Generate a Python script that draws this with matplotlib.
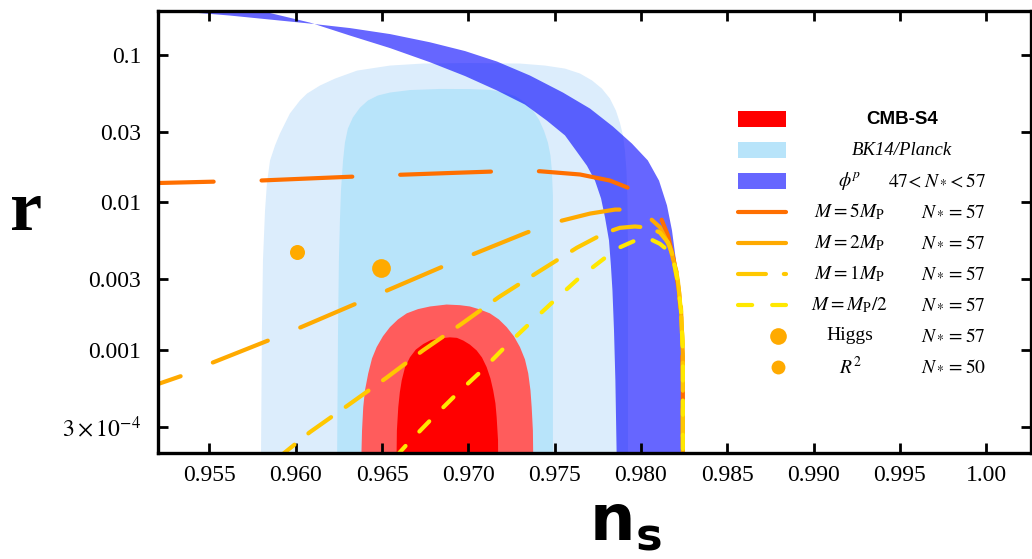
import matplotlib
matplotlib.use("Agg")
import matplotlib.pyplot as plt
from matplotlib.lines import Line2D
from matplotlib.patches import Rectangle

plt.rcParams['font.family'] = ['Liberation Serif', 'DejaVu Serif']
plt.rcParams['mathtext.fontset'] = 'stix'

# BK14/Planck contours (95% outer, 68% inner)
bk_out_ns = [0.95798, 0.95804, 0.95810, 0.95822, 0.95833, 0.95851, 0.95880, 0.95908, 0.95966, 0.96024,
             0.96065, 0.96140, 0.96227, 0.96355, 0.96546, 0.96737, 0.97009, 0.97299, 0.97444, 0.97560,
             0.97647, 0.97717, 0.97774, 0.97820, 0.97855, 0.97878, 0.97896, 0.97907, 0.97916, 0.97922,
             0.97925, 0.97925]
bk_out_r = [1.5e-4, 1.35e-3, 4.02e-3, 8.79e-3, 0.0134, 0.0192, 0.0243, 0.0292, 0.0400, 0.0490,
            0.0546, 0.0619, 0.0690, 0.0782, 0.0846, 0.0873, 0.0880, 0.0873, 0.0846, 0.0807,
            0.0747, 0.0670, 0.0590, 0.0506, 0.0419, 0.0347, 0.0284, 0.0224, 0.0164, 0.0103,
            0.0047, 1.5e-4]
bk_in_ns = [0.96239, 0.96245, 0.96250, 0.96256, 0.96262, 0.96274, 0.96285, 0.96302, 0.96331, 0.96372,
            0.96418, 0.96476, 0.96546, 0.96662, 0.96836, 0.97009, 0.97125, 0.97212, 0.97276, 0.97328,
            0.97374, 0.97409, 0.97438, 0.97461, 0.97476, 0.97484, 0.97490, 0.97490, 0.97490]
bk_in_r = [1.5e-4, 1.35e-3, 4.02e-3, 7.52e-3, 0.0120, 0.0192, 0.0254, 0.0316, 0.0376, 0.0438,
           0.0490, 0.0530, 0.0555, 0.0577, 0.0587, 0.0586, 0.0579, 0.0555, 0.0521, 0.0474,
           0.0419, 0.0364, 0.0306, 0.0254, 0.0207, 0.0164, 0.0111, 0.0055, 1.5e-4]

# CMB-S4 forecast contours
s4_out_ns = [0.96378, 0.96384, 0.96391, 0.96401, 0.96420, 0.96442, 0.96469, 0.96505, 0.96546, 0.96592,
             0.96643, 0.96708, 0.96778, 0.96874, 0.96951, 0.97009, 0.97067, 0.97125, 0.97177, 0.97222,
             0.97264, 0.97299, 0.97328, 0.97347, 0.97360, 0.97367, 0.97374, 0.97377]
s4_out_r = [1.5e-4, 2.82e-4, 4.06e-4, 5.28e-4, 6.89e-4, 8.71e-4, 1.04e-3, 1.23e-3, 1.42e-3, 1.60e-3,
            1.76e-3, 1.88e-3, 1.96e-3, 2.02e-3, 2.00e-3, 1.96e-3, 1.87e-3, 1.76e-3, 1.60e-3, 1.42e-3,
            1.23e-3, 1.04e-3, 8.57e-4, 6.89e-4, 5.28e-4, 4.06e-4, 2.82e-4, 1.5e-4]
s4_in_ns = [0.96583, 0.96586, 0.96594, 0.96603, 0.96614, 0.96633, 0.96662, 0.96696, 0.96739, 0.96783,
            0.96836, 0.96893, 0.96934, 0.96971, 0.97009, 0.97048, 0.97079, 0.97106, 0.97128, 0.97144,
            0.97157, 0.97164, 0.97172, 0.97173]
s4_in_r = [1.5e-4, 2.82e-4, 4.06e-4, 5.12e-4, 6.17e-4, 7.57e-4, 8.87e-4, 1.00e-3, 1.09e-3, 1.16e-3,
           1.19e-3, 1.21e-3, 1.20e-3, 1.15e-3, 1.08e-3, 9.86e-4, 8.83e-4, 7.60e-4, 6.37e-4, 5.28e-4,
           4.31e-4, 3.48e-4, 2.42e-4, 1.5e-4]

# phi^p band, 47 < N < 57
phi_hi_ns = [0.95155, 0.95387, 0.95619, 0.95851, 0.96082, 0.96314, 0.96546, 0.96778, 0.96981, 0.97166,
             0.97357, 0.97548, 0.97705, 0.97838, 0.97948, 0.98040, 0.98105, 0.98151, 0.98180, 0.98203,
             0.98220, 0.98232, 0.98239, 0.98242, 0.98243]
phi_hi_r = [0.216, 0.1945, 0.1848, 0.1736, 0.1631, 0.1520, 0.1384, 0.1217, 0.1061, 0.0901,
            0.0724, 0.0555, 0.0432, 0.0326, 0.0250, 0.0192, 0.0140, 9.50e-3, 6.43e-3, 4.02e-3,
            2.52e-3, 1.58e-3, 8.43e-4, 4.52e-4, 1.5e-4]
phi_lo_ns = [0.95694, 0.95833, 0.96082, 0.96314, 0.96546, 0.96778, 0.96981, 0.97166, 0.97328, 0.97455,
             0.97560, 0.97624, 0.97687, 0.97734, 0.97769, 0.97792, 0.97815, 0.97826, 0.97835, 0.97844,
             0.97852, 0.97861]
phi_lo_r = [0.216, 0.1945, 0.1656, 0.1352, 0.1112, 0.0891, 0.0718, 0.0573, 0.0460, 0.0358,
            0.0284, 0.0224, 0.0177, 0.0140, 0.0106, 7.87e-3, 5.50e-3, 3.72e-3, 2.52e-3, 1.35e-3,
            6.17e-4, 1.5e-4]

# model curves, N = 57
m5_ns = [0.95196, 0.95543, 0.95793, 0.96343, 0.96604, 0.96893, 0.97143, 0.97415, 0.97647, 0.97820,
         0.97936, 0.98041, 0.98110, 0.98157, 0.98191, 0.98220, 0.98238, 0.98243, 0.98243]
m5_r = [0.01349, 0.0138, 0.01403, 0.01493, 0.01535, 0.01578, 0.01615, 0.01622, 0.01542, 0.01403,
        0.01239, 0.01028, 0.00813, 0.00594, 0.00402, 0.00252, 0.00135, 6.17e-4, 1.91e-4]
m2_ns = [0.95196, 0.95346, 0.95503, 0.95839, 0.96007, 0.96337, 0.96499, 0.96836, 0.96998, 0.97334, 0.97490,
         0.97705, 0.97850, 0.97936, 0.98023, 0.98110, 0.98168, 0.98209, 0.98232, 0.98243, 0.98243]
m2_r = [5.80e-4, 6.67e-4, 8.02e-4, 1.15e-3, 1.38e-3, 2.02e-3, 2.43e-3, 3.59e-3, 4.29e-3, 6.19e-3, 7.24e-3,
        8.37e-3, 8.91e-3, 8.91e-3, 8.37e-3, 6.76e-3, 4.96e-3, 3.28e-3, 1.93e-3, 9.42e-4, 1.91e-4]
m1_ns = [0.95908, 0.96082, 0.96302, 0.96523, 0.96737, 0.96963, 0.97177, 0.97403, 0.97629, 0.97792,
         0.97878, 0.97965, 0.98052, 0.98110, 0.98157, 0.98191, 0.98214, 0.98232, 0.98243, 0.98243]
m1_r = [1.88e-4, 2.75e-4, 4.18e-4, 6.40e-4, 9.86e-4, 1.50e-3, 2.27e-3, 3.35e-3, 4.91e-3, 6.19e-3,
        6.70e-3, 6.84e-3, 6.70e-3, 6.22e-3, 5.33e-3, 4.15e-3, 2.94e-3, 1.84e-3, 9.86e-4, 1.91e-4]
mh_ns = [0.96581, 0.96650, 0.96789, 0.96934, 0.97079, 0.97212, 0.97357, 0.97502, 0.97647, 0.97803,
         0.97873, 0.97977, 0.98041, 0.98110, 0.98157, 0.98191, 0.98214, 0.98232, 0.98243, 0.98243]
mh_r = [1.88e-4, 2.31e-4, 3.40e-4, 5.01e-4, 7.21e-4, 1.04e-3, 1.51e-3, 2.17e-3, 3.10e-3, 4.29e-3,
        4.91e-3, 5.56e-3, 5.71e-3, 5.22e-3, 4.70e-3, 3.90e-3, 2.85e-3, 1.84e-3, 9.86e-4, 1.91e-4]

higgs = (0.96494, 3.55e-3)
r2 = (0.96005, 4.58e-3)

xticks = [0.955, 0.960, 0.965, 0.970, 0.975, 0.980, 0.985, 0.990, 0.995, 1.00]
xticklabels = ['0.955', '0.960', '0.965', '0.970', '0.975', '0.980', '0.985', '0.990', '0.995', '1.00']
yticks = [0.1, 0.03, 0.01, 0.003, 0.001, 3e-4]
yticklabels = ['0.1', '0.03', '0.01', '0.003', '0.001', r'$3\times10^{-4}$']

c5, c2, c1, ch, cdot = '#ff6f00', '#ffaa00', '#ffc800', '#ffe800', '#ffaa00'
dash5, dash2, dash1, dashh = (21.8, 11.5), (14.2, 8.4), (6.7, 4.3), (3.4, 4.8)

fig = plt.figure(figsize=(10.32, 5.59), dpi=100)
ax = fig.add_axes([0.1528, 0.1905, 0.8462, 0.7907])

ax.fill(bk_out_ns, bk_out_r, color='#dcedfc', lw=0)
ax.fill(bk_in_ns, bk_in_r, color='#b8e4fa', lw=0)
ax.fill(s4_out_ns, s4_out_r, color='#ff5c5c', lw=0)
ax.fill(s4_in_ns, s4_in_r, color='#ff0000', lw=0)
ax.fill(phi_hi_ns + phi_lo_ns[::-1], phi_hi_r + phi_lo_r[::-1], color='#0000ff', alpha=0.6, lw=0)

kw = dict(lw=3, dash_capstyle='round', solid_capstyle='round')
ax.plot(m5_ns, m5_r, color=c5, ls=(8.2, dash5), **kw)
ax.plot(m2_ns, m2_r, color=c2, ls=(8.2, dash2), **kw)
ax.plot(m1_ns, m1_r, color=c1, ls=(2.2, dash1), **kw)
ax.plot(mh_ns, mh_r, color=ch, ls=(0, dashh), **kw)
ax.plot(*higgs, 'o', color=cdot, ms=13.5, mew=0)
ax.plot(*r2, 'o', color=cdot, ms=10.8, mew=0)

ax.set_yscale('log')
ax.set_xlim(0.952, 1.0026)
ax.set_ylim(2e-4, 0.2)
ax.set_xticks(xticks)
ax.set_xticklabels(xticklabels)
ax.set_yticks(yticks)
ax.set_yticklabels(yticklabels)
ax.minorticks_off()
ax.tick_params(direction='in', length=7, width=2, top=True, right=True, labelsize=17)
ax.tick_params(axis='x', pad=9)
ax.tick_params(axis='y', pad=12)
for sp in ax.spines.values():
    sp.set_linewidth(2.4)

ax.text(-0.151, 0.503, 'r', transform=ax.transAxes, ha='center', va='baseline',
        fontsize=52, fontweight='bold', family='Liberation Serif')
ax.text(0.536, -0.198, r'$\mathbf{n}_\mathbf{s}$', transform=ax.transAxes, ha='center', va='baseline',
        fontsize=46, math_fontfamily='dejavusans')

# legend, drawn by hand
y0, dy = 0.7545, 0.0701
hx0, hx1 = 0.6645, 0.7196
col1, col2 = 0.7927, 0.9485
fs = 14
for i, c in enumerate(['#ff0000', '#b8e4fa', '#6666ff']):
    y = y0 - i * dy
    ax.add_patch(Rectangle((hx0, y - 0.018), hx1 - hx0, 0.036, color=c, lw=0, transform=ax.transAxes))
ax.text(0.8523, y0, 'CMB-S4', transform=ax.transAxes, ha='center', va='center',
        fontsize=13.5, fontweight='bold', family='Liberation Sans')
ax.text(0.8523, y0 - dy, 'BK14/Planck', transform=ax.transAxes, ha='center', va='center',
        fontsize=13.5, style='italic')
ax.text(col1, y0 - 2 * dy, r'$\phi^p$', transform=ax.transAxes, ha='center', va='center', fontsize=fs)
ax.text(col2, y0 - 2 * dy, r'$47\!<N_*\!<57$', transform=ax.transAxes, ha='right', va='center', fontsize=fs)

lines = [(c5, dash5, r'$M = 5M_{\rm P}$'), (c2, dash2, r'$M = 2M_{\rm P}$'),
         (c1, dash1, r'$M = 1M_{\rm P}$'), (ch, dashh, r'$M = M_{\rm P}/2$')]
for i, (c, d, lab) in enumerate(lines):
    y = y0 - (3 + i) * dy
    ax.add_line(Line2D([hx0, hx1], [y, y], color=c, ls=(0, d), transform=ax.transAxes, **kw))
    ax.text(col1, y, lab, transform=ax.transAxes, ha='center', va='center', fontsize=fs)
    ax.text(col2, y, r'$N_* = 57$', transform=ax.transAxes, ha='right', va='center', fontsize=fs)

pts = [(12, 'Higgs', r'$N_* = 57$'), (10, r'$R^2$', r'$N_* = 50$')]
for i, (ms, lab, nl) in enumerate(pts):
    y = y0 - (7 + i) * dy
    ax.add_line(Line2D([0.7099], [y], marker='o', ms=ms, color=cdot, mew=0, transform=ax.transAxes))
    ax.text(col1, y, lab, transform=ax.transAxes, ha='center', va='center', fontsize=fs)
    ax.text(col2, y, nl, transform=ax.transAxes, ha='right', va='center', fontsize=fs)

fig.savefig('out.png', dpi=100)
